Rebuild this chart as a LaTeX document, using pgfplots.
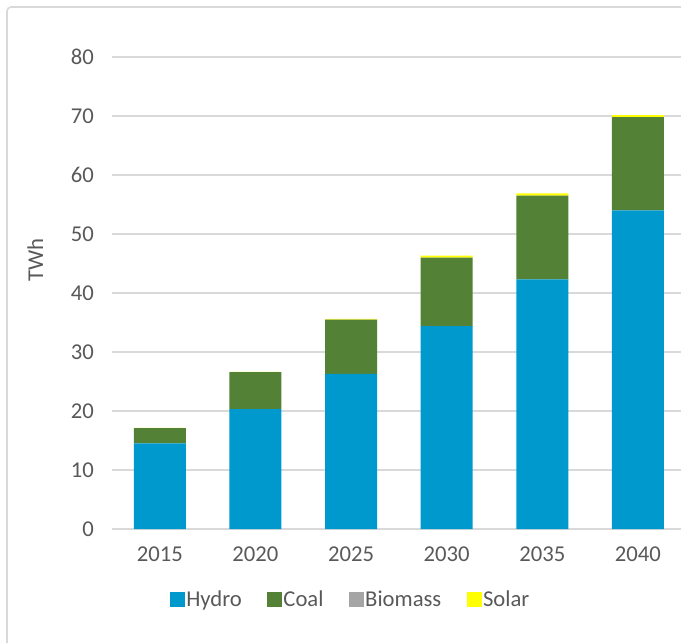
\documentclass[border=0pt]{standalone}
\usepackage{pgfplots}
\pgfplotsset{compat=1.18}
\usepackage{fontspec}
\setmainfont{Carlito}

\definecolor{hydro}{HTML}{0099CE}
\definecolor{coal}{HTML}{538135}
\definecolor{biomass}{HTML}{A5A5A5}
\definecolor{solar}{HTML}{FFFF00}
\definecolor{txt}{HTML}{595959}
\definecolor{gridc}{HTML}{D9D9D9}

\begin{document}
\begin{tikzpicture}
% 1px = 0.75pt, picture 681x642 px
\path[use as bounding box] (0,0) rectangle (510.75pt,481.5pt);
\draw[gridc, line width=1.2pt, rounded corners=3pt] (5.25pt,-10pt) -- (5.25pt,476.25pt) -- (520pt,476.25pt);
\begin{axis}[
    at={(84pt,84.75pt)}, anchor=south west,
    scale only axis,
    width=426.75pt, height=354pt,
    ybar stacked,
    bar width=39pt,
    xmin=-0.5, xmax=5.45,
    ymin=0, ymax=80,
    xtick=data,
    xticklabels={2015,2020,2025,2030,2035,2040},
    ytick={0,10,...,80},
    ymajorgrids,
    grid style={gridc, line width=0.9pt},
    axis line style={draw=none},
    major tick length=0pt,
    font=\fontsize{17}{20}\selectfont,
    tick label style={txt},
    /pgf/number format/assume math mode=true,
    yticklabel style={xshift=-10pt},
    xticklabel style={yshift=-10pt},
    ylabel={TWh},
    ylabel style={txt, at={(axis description cs:-0.135,0.57)}, anchor=center},
    legend columns=4,
    legend style={draw=none, fill=none, at={(axis description cs:0.42,-0.15)}, anchor=center,
        font=\fontsize{17}{20}\selectfont, text=txt,
        /tikz/every odd column/.append style={column sep=-1pt},
        /tikz/every even column/.append style={column sep=17pt}},
    legend image code/.code={\fill[#1] (0pt,-5.6pt) rectangle (11.25pt,5.6pt);},
]
\addplot[fill=hydro, draw=none] coordinates {(0,14.5) (1,20.3) (2,26.3) (3,34.4) (4,42.3) (5,54.0)};
\addplot[fill=coal, draw=none] coordinates {(0,2.6) (1,6.3) (2,9.2) (3,11.6) (4,14.2) (5,15.8)};
\addplot[fill=biomass, draw=none] coordinates {(0,0) (1,0) (2,0) (3,0) (4,0) (5,0)};
\addplot[fill=solar, draw=none] coordinates {(0,0.05) (1,0.05) (2,0.1) (3,0.33) (4,0.4) (5,0.34)};
\legend{Hydro,Coal,Biomass,Solar}
\end{axis}
\end{tikzpicture}
\end{document}
